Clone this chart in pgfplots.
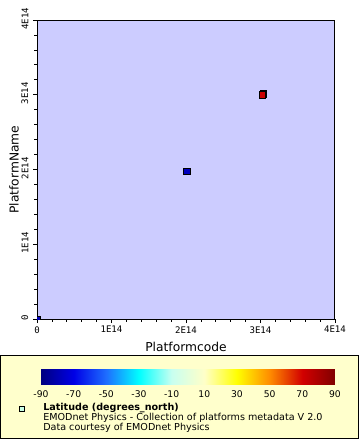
\documentclass[border=0pt]{standalone}
\usepackage{pgfplots}
\pgfplotsset{compat=1.18}
\usepackage{fontspec}
\setmainfont{DejaVu Sans}
\newfontfamily\monofont{DejaVu Sans Mono}
\definecolor{bgblue}{RGB}{204,204,255}
\definecolor{legbg}{RGB}{255,255,204}
\definecolor{legsq}{RGB}{200,255,230}
\begin{document}
\begin{tikzpicture}
\path[use as bounding box] (0,0) rectangle (270pt,-330pt);
\draw[fill=legbg, line width=0.75pt] (0.4pt,-266.25pt) rectangle (268.5pt,-328.5pt);
\begin{axis}[
  at={(27.75pt,-15pt)}, anchor=north west,
  scale only axis, width=223.5pt, height=224.25pt,
  xmin=0, xmax=4e14, ymin=0, ymax=4e14,
  axis background/.style={fill=bgblue},
  axis line style={line width=0.75pt},
  xtick={0,1e14,2e14,3e14,4e14}, xticklabels={0,1E14,2E14,3E14,4E14},
  ytick={0,1e14,2e14,3e14,4e14}, yticklabels={0,1E14,2E14,3E14,4E14},
  scaled ticks=false,
  minor tick num=4,
  tick align=outside, xtick pos=left, ytick pos=left,
  major tick length=3pt, minor tick length=2pt,
  tick style={black, line width=0.6pt},
  tick label style={font=\monofont\fontsize{6.8}{8}\selectfont},
  xticklabel style={yshift=1pt},
  yticklabel style={rotate=90, anchor=south, xshift=1pt},
  xlabel={Platformcode}, ylabel={PlatformName},
  label style={font=\fontsize{9.2}{11}\selectfont},
  xlabel style={at={(axis description cs:0.5,-0.0936)}, anchor=center},
  ylabel style={at={(axis description cs:-0.0772,0.5)}, anchor=center},
  colormap={emod}{rgb255(0)=(0,0,128) rgb255(2)=(0,0,230) rgb255(4)=(30,110,255) rgb255(6)=(0,255,255) rgb255(8)=(200,255,240) rgb255(10)=(255,255,200) rgb255(12)=(255,255,0) rgb255(14)=(255,140,0) rgb255(16)=(210,0,0) rgb255(18)=(128,0,0)},
  point meta min=-90, point meta max=90,
  colorbar horizontal,
  colorbar style={
    at={(parent axis.south west)}, anchor=north west,
    xshift=3pt, yshift=-29.5pt,
    scale only axis, width=220.5pt, height=11.25pt,
    xtick={-90,-70,-50,-30,-10,10,30,50,70,90},
    xticklabels={-90,-70,-50,-30,-10,10,30,50,70,90},
    major tick length=0pt,
    axis line style={draw=none},
    xticklabel style={font=\fontsize{6.9}{8}\selectfont, yshift=-1pt},
  },
  clip marker paths=true,
]
\addplot[only marks, mark=square*, mark size=2.4pt, mark options={fill=black, draw=black}]
  coordinates {(3.035e14,3.015e14)};
\addplot[scatter, only marks, mark=square*, mark size=2.3pt,
  scatter/use mapped color={draw=black, fill=mapped color},
  point meta=explicit]
  coordinates {
    (0,0) [-80]
    (2.01e14,1.98e14) [-78]
    (3.02e14,3.0e14) [72]
  };
\end{axis}
\draw[fill=legsq, line width=0.6pt] (14.2pt,-304.9pt) rectangle (18pt,-308.7pt);
\node[anchor=west, inner sep=0pt, font=\bfseries\fontsize{7.2}{8}\selectfont] at (32.25pt,-306.3pt) {Latitude (degrees\_north)};
\node[anchor=west, inner sep=0pt, font=\fontsize{7.2}{8}\selectfont] at (32.25pt,-313.6pt) {EMODnet Physics - Collection of platforms metadata V 2.0};
\node[anchor=west, inner sep=0pt, font=\fontsize{7.2}{8}\selectfont] at (32.25pt,-320.6pt) {Data courtesy of EMODnet Physics};
\end{tikzpicture}
\end{document}
